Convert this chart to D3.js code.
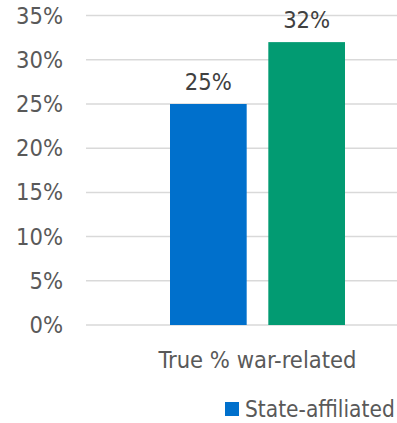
<!DOCTYPE html>
<html>
<head>
<meta charset="utf-8">
<script src="https://cdn.jsdelivr.net/npm/d3@7"></script>
<style>
  html, body { margin: 0; padding: 0; background: #fff; overflow: hidden; }
  svg { display: block; }
  text { font-family: "DejaVu Sans Condensed", "DejaVu Sans", Verdana, sans-serif; }
</style>
</head>
<body>
<script>
// Chart data
const categories = ["True % war-related"];
const seriesNames = ["State-affiliated", "Other"];
const seriesValues = [25, 32];           // percent, one per series
const seriesColors = ["#0070cc", "#029b72"];
const yTicks = [0, 5, 10, 15, 20, 25, 30, 35];

const W = 397, H = 423;
const FONT = 23.5;
const svg = d3.select("body").append("svg").attr("width", W).attr("height", H);

const plotLeft = 86, plotRight = 428, plotTop = 15.6, plotBottom = 325;

const y = d3.scaleLinear().domain([0, 35]).range([plotBottom, plotTop]);
const x0 = d3.scaleBand().domain(categories).range([plotLeft, plotRight]);
const x1 = d3.scaleBand().domain(seriesNames)
  .range([170, 345]).paddingInner(0.22);

// Gridlines
svg.append("g").selectAll("line").data(yTicks).join("line")
  .attr("x1", plotLeft).attr("x2", W)
  .attr("y1", d => y(d)).attr("y2", d => y(d))
  .attr("stroke", "#d9d9d9").attr("stroke-width", 1.5);

// Y axis labels
const yAxis = d3.axisLeft(y).tickValues(yTicks).tickFormat(d => d + "%").tickSize(0).tickPadding(0);
const gy = svg.append("g").attr("transform", "translate(63,0)").call(yAxis);
gy.select(".domain").remove();
gy.selectAll("text").attr("font-size", FONT).attr("fill", "#595959")
  .attr("font-family", "DejaVu Sans Condensed, DejaVu Sans, sans-serif");

// Bars
const bars = svg.append("g");
bars.selectAll("rect").data(seriesValues).join("rect")
  .attr("x", (d, i) => x1(seriesNames[i]))
  .attr("width", x1.bandwidth())
  .attr("y", d => y(d))
  .attr("height", d => y(0) - y(d))
  .attr("fill", (d, i) => seriesColors[i]);

// Value labels
bars.selectAll("text").data(seriesValues).join("text")
  .attr("x", (d, i) => x1(seriesNames[i]) + x1.bandwidth() / 2)
  .attr("y", d => y(d) - 14)
  .attr("text-anchor", "middle")
  .attr("font-size", FONT)
  .attr("fill", "#404040")
  .text(d => d + "%");

// Category label
svg.append("text")
  .attr("x", (170 + 345) / 2)
  .attr("y", 368)
  .attr("text-anchor", "middle")
  .attr("font-size", FONT)
  .attr("fill", "#595959")
  .text(categories[0]);

// Legend
const lg = svg.append("g");
lg.append("rect").attr("x", 225).attr("y", 402).attr("width", 14).attr("height", 14)
  .attr("fill", seriesColors[0]);
lg.append("text").attr("x", 245).attr("y", 417)
  .attr("font-size", 22.5).attr("fill", "#595959")
  .text(seriesNames[0]);
</script>
</body>
</html>
